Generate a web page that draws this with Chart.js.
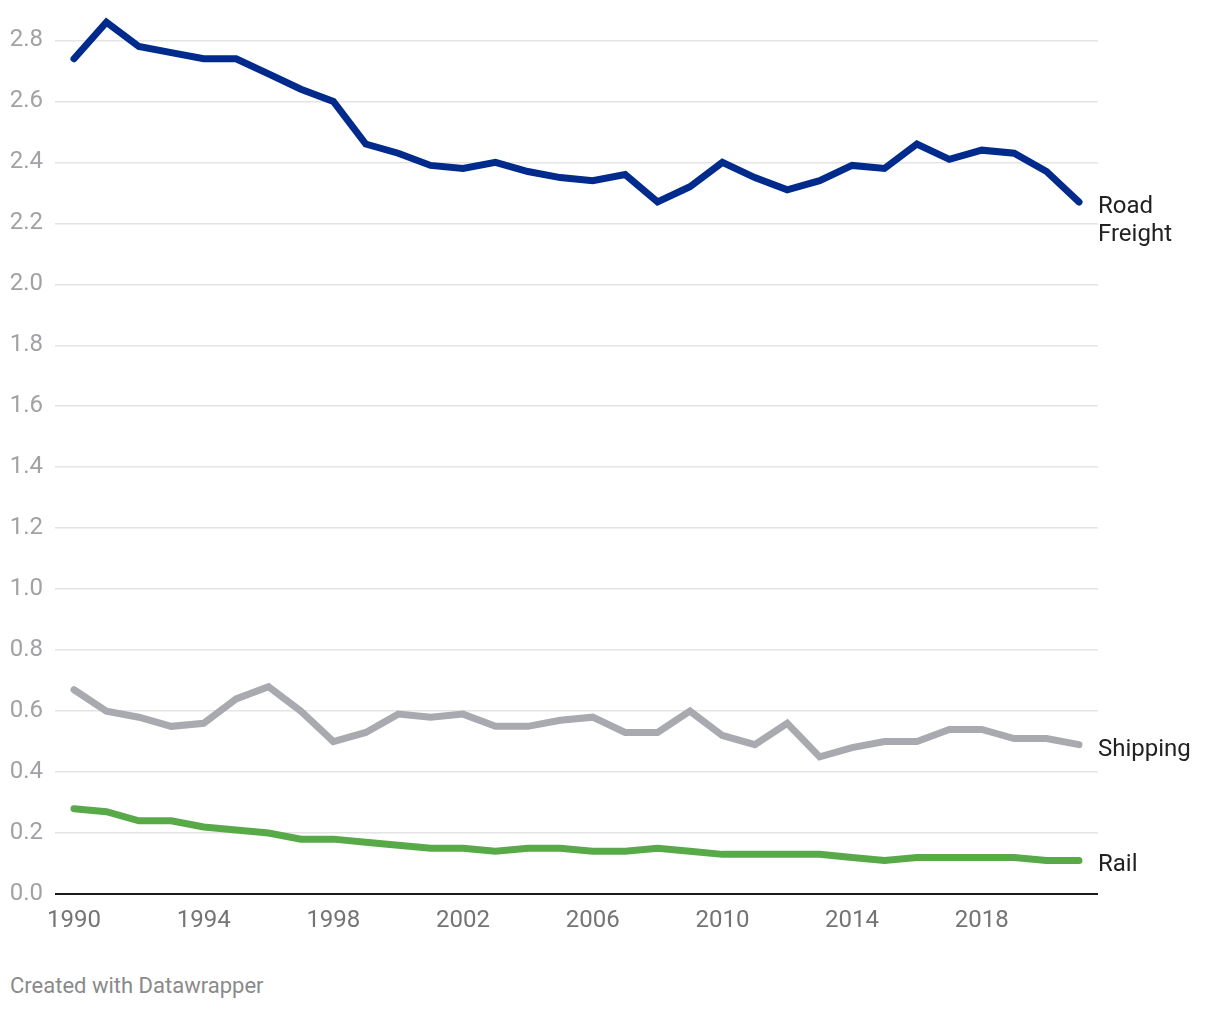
<!DOCTYPE html>
<html>
<head>
<meta charset="utf-8">
<script src="https://cdn.jsdelivr.net/npm/chart.js@4/dist/chart.umd.min.js"></script>
<style>
    html, body { margin: 0; padding: 0; background: #fff; }
    #wrap { position: relative; width: 1220px; height: 1010px; }
    #chart { position: absolute; left: 0; top: 0; }
    #credit {
        position: absolute; left: 10px; top: 973px;
        font-family: Roboto, sans-serif; font-size: 22px; color: #8a8a8a;
    }
</style>
</head>
<body>
<div id="wrap">
    <canvas id="chart" width="1220" height="950"></canvas>
    <div id="credit">Created with Datawrapper</div>
</div>
<script>
"use strict";

// Chart data
var years = [1990, 1991, 1992, 1993, 1994, 1995, 1996, 1997, 1998, 1999, 2000, 2001, 2002, 2003, 2004, 2005,
    2006, 2007, 2008, 2009, 2010, 2011, 2012, 2013, 2014, 2015, 2016, 2017, 2018, 2019, 2020, 2021];
var roadFreight = [2.74, 2.86, 2.78, 2.76, 2.74, 2.74, 2.69, 2.64, 2.60, 2.46, 2.43, 2.39, 2.38, 2.40, 2.37, 2.35,
    2.34, 2.36, 2.27, 2.32, 2.40, 2.35, 2.31, 2.34, 2.39, 2.38, 2.46, 2.41, 2.44, 2.43, 2.37, 2.27];
var shipping = [0.67, 0.60, 0.58, 0.55, 0.56, 0.64, 0.68, 0.60, 0.50, 0.53, 0.59, 0.58, 0.59, 0.55, 0.55, 0.57,
    0.58, 0.53, 0.53, 0.60, 0.52, 0.49, 0.56, 0.45, 0.48, 0.50, 0.50, 0.54, 0.54, 0.51, 0.51, 0.49];
var rail = [0.28, 0.27, 0.24, 0.24, 0.22, 0.21, 0.20, 0.18, 0.18, 0.17, 0.16, 0.15, 0.15, 0.14, 0.15, 0.15,
    0.14, 0.14, 0.15, 0.14, 0.13, 0.13, 0.13, 0.13, 0.12, 0.11, 0.12, 0.12, 0.12, 0.12, 0.11, 0.11];
var xTicks = [1990, 1994, 1998, 2002, 2006, 2010, 2014, 2018];
var yTicks = [0, 0.2, 0.4, 0.6, 0.8, 1.0, 1.2, 1.4, 1.6, 1.8, 2.0, 2.2, 2.4, 2.6, 2.8];
var endLabels = [['Road', 'Freight'], ['Shipping'], ['Rail']];

// Colors
var roadColor = '#002a8c';
var shipColor = '#a9aaaf';
var railColor = '#58aa48';

function toPoints(values) {
    return values.map(function (v, i) { return { x: years[i], y: v }; });
}

// Labels at the end of each line
var endLabelPlugin = {
    id: 'endLabels',
    afterDatasetsDraw: function (chart) {
        var ctx = chart.ctx;
        ctx.save();
        ctx.font = '24px Roboto, sans-serif';
        ctx.fillStyle = '#222';
        ctx.textAlign = 'left';
        ctx.textBaseline = 'middle';
        chart.data.datasets.forEach(function (ds, i) {
            var meta = chart.getDatasetMeta(i);
            var pt = meta.data[meta.data.length - 1];
            endLabels[i].forEach(function (line, j) {
                ctx.fillText(line, pt.x + 19, pt.y + 5 + j * 28);
            });
        });
        ctx.restore();
    }
};

var lineStyle = {
    borderWidth: 7,
    pointRadius: 0,
    borderCapStyle: 'round',
    borderJoinStyle: 'miter',
    tension: 0,
    fill: false,
    clip: false
};

var ctx = document.getElementById('chart');
var myChart = new Chart(ctx, {
    type: 'line',
    data: {
        datasets: [
            Object.assign({ label: 'Road Freight', data: toPoints(roadFreight), borderColor: roadColor }, lineStyle),
            Object.assign({ label: 'Shipping', data: toPoints(shipping), borderColor: shipColor }, lineStyle),
            Object.assign({ label: 'Rail', data: toPoints(rail), borderColor: railColor }, lineStyle)
        ]
    },
    plugins: [endLabelPlugin],
    options: {
        responsive: false,
        animation: false,
        layout: { padding: { left: 10, right: 122, top: 0, bottom: 0 } },
        plugins: {
            legend: { display: false },
            tooltip: { enabled: false },
            title: { display: false }
        },
        scales: {
            x: {
                type: 'linear',
                min: 1989.414,
                max: 2021.586,
                afterBuildTicks: function (axis) {
                    axis.ticks = xTicks.map(function (v) { return { value: v }; });
                },
                afterFit: function (axis) { axis.height = 56; },
                grid: { display: false, drawTicks: false },
                border: { display: false },
                ticks: {
                    autoSkip: false,
                    maxRotation: 0,
                    padding: 13,
                    color: '#747474',
                    font: { family: 'Roboto', size: 24 },
                    callback: function (v) { return String(v); }
                }
            },
            y: {
                min: 0,
                max: 2.846,
                afterBuildTicks: function (axis) {
                    axis.ticks = yTicks.map(function (v) { return { value: v }; });
                },
                afterFit: function (axis) { axis.width = 45; },
                grid: {
                    drawTicks: false,
                    color: function (c) { return c.tick && c.tick.value === 0 ? '#1a1a1a' : '#e4e4e4'; },
                    lineWidth: function (c) { return c.tick && c.tick.value === 0 ? 2 : 1.5; }
                },
                border: { display: false },
                ticks: {
                    padding: 12,
                    color: '#a2a2a6',
                    font: { family: 'Roboto', size: 24 },
                    callback: function (v) { return Number(v).toFixed(1); }
                }
            }
        }
    }
});
</script>
</body>
</html>
